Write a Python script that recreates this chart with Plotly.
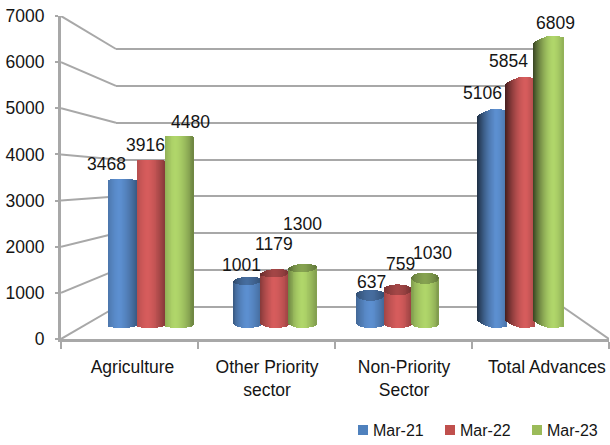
import math
import plotly.graph_objects as go

# ---------- data ----------
categories = ["Agriculture", "Other Priority<br>sector", "Non-Priority<br>Sector", "Total Advances"]
series_names = ["Mar-21", "Mar-22", "Mar-23"]
mar21 = [3468, 1001, 637, 5106]
mar22 = [3916, 1179, 759, 5854]
mar23 = [4480, 1300, 1030, 6809]
y_ticks = [0, 1000, 2000, 3000, 4000, 5000, 6000, 7000]

# ---------- style ----------
W, H = 610, 445
FONT = "Liberation Sans, Arial, sans-serif"
FS = 17.5
INK = "#151515"
GRID = "#a8a8a8"
base_rgb = [(92, 143, 208), (214, 92, 92), (176, 214, 106)]
flat_rgb = ["#4f81bd", "#c0504d", "#9bbb59"]

# axis pixel frames
FRONT = dict(left=61, right=609, zero=339, top=16)
BACK = dict(left=116, right=563, zero=307, top=49)
BARS = dict(zero=328, px_per_1000=42.9, first=151.5, step=122.9)
group_px = [0, 123.5, 246.5, 369]       # cylinder group offsets
slot_px = [28.3, 27.6, 27.3, 28.2]
cyl_px = [28.5, 28, 27.5, 29]
# per category: shading (peak, left dark, right dark), bottom edge rise (L,R) and skew,
# top edge drop (L,R) and skew, cap height
look = [
    dict(peak=-0.25, dl=0.82, dr=0.62, bl=2, br=4, bs=0, tl=0.5, tr=1, ts=0, cap=0),
    dict(peak=0.0, dl=0.62, dr=0.74, bl=6, br=4, bs=0, tl=4, tr=3, ts=1.5, cap=8.5),
    dict(peak=0.05, dl=0.72, dr=0.72, bl=5, br=4, bs=0, tl=5, tr=5, ts=0, cap=11),
    dict(peak=0.35, dl=0.32, dr=0.82, bl=3, br=2, bs=5, tl=3, tr=2, ts=5, cap=0),
]
value_labels_shift = [
    [(-17, 15), (-6, 15), (11, 14)],
    [(-6, 20), (-1, 33), (0, 48)],
    [(1, 19), (2, 31), (7, 31)],
    [(-10, 16), (-12, 16), (7, 13)],
]
N = 30

fig = go.Figure()


def px_x(p):
    return p / W


def px_y(p):
    return 1 - p / H


def shade(rgb, k):
    return "rgb(%d,%d,%d)" % tuple(min(255, round(c * k)) for c in rgb)


# ---------- side wall / floor lines (front axis -> back wall) ----------
fw = (FRONT["zero"] - FRONT["top"]) / 7000
bw = (BACK["zero"] - BACK["top"]) / 7000
depth = (BACK["left"] - FRONT["left"]) / ((FRONT["right"] - FRONT["left"]) / 4)
for v in y_ticks:
    back_px = BACK["zero"] - v * bw
    fig.add_trace(go.Scatter(
        x=[-0.5, -0.5 + depth], y=[v, (FRONT["zero"] - back_px) / fw], mode="lines",
        line=dict(color=GRID, width=2), showlegend=False, hoverinfo="skip", xaxis="x", yaxis="y",
        cliponaxis=False))
fig.add_trace(go.Scatter(
    x=[3.5 - depth * (FRONT["right"] - BACK["right"]) / (BACK["left"] - FRONT["left"]), 3.5],
    y=[(FRONT["zero"] - BACK["zero"]) / fw, 0], mode="lines",
    line=dict(color=GRID, width=2), showlegend=False, hoverinfo="skip", xaxis="x", yaxis="y",
    cliponaxis=False))

# ---------- back wall: native gridlines ----------
fig.add_trace(go.Scatter(x=[0, 1], y=[0, 0], mode="none", showlegend=False, hoverinfo="skip",
                         xaxis="x2", yaxis="y2"))

# ---------- cylinders ----------
u = 1000 / BARS["px_per_1000"]      # value units per pixel
for s, values in enumerate([mar21, mar22, mar23]):
    xs, bases, heights, colors = [], [], [], []
    cap_xs, cap_bases, cap_h, cap_colors = [], [], [], []
    for c, v in enumerate(values):
        lk = look[c]
        cx = group_px[c] / BARS["step"] + (s - 1) * slot_px[c] / BARS["step"]
        wid = cyl_px[c] / BARS["step"]
        for i in range(N):
            t = -1 + 2 * (i + 0.5) / N
            curve = 1 - math.sqrt(1 - t * t)
            bottom = (curve * (lk["bl"] if t < 0 else lk["br"]) + lk["bs"] * max(0, -t)) * u
            cap = lk["cap"] * u
            drop = (curve * (lk["tl"] if t < 0 else lk["tr"]) + lk["ts"] * max(0, -t)) * u
            upper = v + cap - drop
            # lighting across the cylinder
            if t < lk["peak"]:
                f = ((lk["peak"] - t) / (lk["peak"] + 1)) ** 1.6
                k = 1 - (1 - lk["dl"]) * f
            else:
                f = ((t - lk["peak"]) / (1 - lk["peak"])) ** 1.6
                k = 1 - (1 - lk["dr"]) * f
            xs.append(cx + (t * 0.5) * wid)
            bases.append(bottom)
            heights.append(upper - bottom)
            colors.append(shade(base_rgb[s], k))
            if cap > 0:
                edge = cap - ((lk["tl"] if t < 0 else lk["tr"]) + lk["ts"] * max(0, -t)) * u
                lower = v + curve * edge
                cap_xs.append(cx + (t * 0.5) * wid)
                cap_bases.append(lower)
                cap_h.append(upper - lower)
                cap_colors.append(shade(base_rgb[s], 0.76 * k))
    common = dict(width=1.5 * (cyl_px[0] / N) / BARS["step"], showlegend=False,
                  hoverinfo="skip", xaxis="x3", yaxis="y3")
    fig.add_trace(go.Bar(x=xs, y=heights, base=bases, name=series_names[s],
                         marker=dict(color=colors, line=dict(width=0)), **common))
    fig.add_trace(go.Bar(x=cap_xs, y=cap_h, base=cap_bases,
                         marker=dict(color=cap_colors, line=dict(width=0)), **common))

# ---------- value labels ----------
annotations = []
for s, values in enumerate([mar21, mar22, mar23]):
    for c, v in enumerate(values):
        cx = group_px[c] / BARS["step"] + (s - 1) * slot_px[c] / BARS["step"]
        dx, dy = value_labels_shift[c][s]
        annotations.append(dict(
            x=cx, y=v, xref="x3", yref="y3", text=str(v), showarrow=False,
            xshift=dx, yshift=dy, font=dict(family=FONT, size=FS, color=INK)))

# ---------- legend ----------
shapes = []
for s, name in enumerate(series_names):
    lx = 358 + s * 87
    shapes.append(dict(type="rect", xref="paper", yref="paper", layer="above",
                       x0=px_x(lx), x1=px_x(lx + 10), y0=px_y(435), y1=px_y(425),
                       fillcolor=flat_rgb[s], line=dict(width=0)))
    annotations.append(dict(x=px_x(lx + 13), y=px_y(430), xref="paper", yref="paper",
                            xanchor="left", yanchor="middle", text=name, showarrow=False,
                            font=dict(family=FONT, size=16, color=INK)))

# ---------- axes ----------
axis_hidden = dict(visible=False, showgrid=False, zeroline=False, fixedrange=True)
label_pos = [0.022, 1.004, 2.004, 3.047]
wall_pad = 300
fig.update_layout(
    width=W, height=H, margin=dict(l=0, r=0, t=0, b=0, pad=0, autoexpand=False),
    paper_bgcolor="white", plot_bgcolor="rgba(0,0,0,0)",
    barmode="overlay", bargap=0, showlegend=False,
    font=dict(family=FONT, size=FS, color=INK),
    annotations=annotations, shapes=shapes,
    xaxis=dict(domain=[px_x(FRONT["left"]), px_x(FRONT["right"])], range=[-0.5, 3.5],
               tickmode="array", tickvals=label_pos, ticktext=categories, ticks="", ticklen=0,
               tickfont=dict(family=FONT, size=FS, color=INK), ticklabelstandoff=10,
               showline=True, linecolor=GRID, linewidth=3, showgrid=False, zeroline=False,
               minor=dict(tickmode="array", tickvals=[-0.5, 0.5, 1.5, 2.5, 3.5], ticks="outside",
                          ticklen=7, tickwidth=2, tickcolor=GRID, showgrid=False),
               anchor="y", fixedrange=True),
    yaxis=dict(domain=[px_y(FRONT["zero"]), px_y(FRONT["top"])], range=[0, 7000],
               tickmode="array", tickvals=y_ticks, ticks="outside", ticklen=3, tickwidth=2,
               tickcolor=GRID, tickfont=dict(family=FONT, size=FS, color=INK),
               ticklabelstandoff=7, showline=True, linecolor=GRID, linewidth=3,
               showgrid=False, zeroline=False, anchor="x", fixedrange=True),
    xaxis2=dict(domain=[px_x(BACK["left"]), px_x(BACK["right"])], range=[0, 1], anchor="y2",
                visible=False, showgrid=False, zeroline=False, fixedrange=True),
    yaxis2=dict(domain=[px_y(BACK["zero"] + wall_pad * bw), px_y(BACK["top"] - wall_pad * bw)],
                range=[-wall_pad, 7000 + wall_pad], anchor="x2",
                tickmode="array", tickvals=y_ticks, showticklabels=False, ticks="",
                showgrid=True, gridcolor=GRID, gridwidth=2, zeroline=False, showline=False,
                fixedrange=True),
    xaxis3=dict(domain=[0, 1], anchor="y3",
                range=[(0 - BARS["first"]) / BARS["step"], (W - BARS["first"]) / BARS["step"]],
                **axis_hidden),
    yaxis3=dict(domain=[0, 1], anchor="x3",
                range=[(BARS["zero"] - H) * u, BARS["zero"] * u], **axis_hidden),
)

fig.write_html("out.html", config={"displayModeBar": False},
               post_script="document.body.style.margin='0';document.documentElement.style.overflow='hidden';")
